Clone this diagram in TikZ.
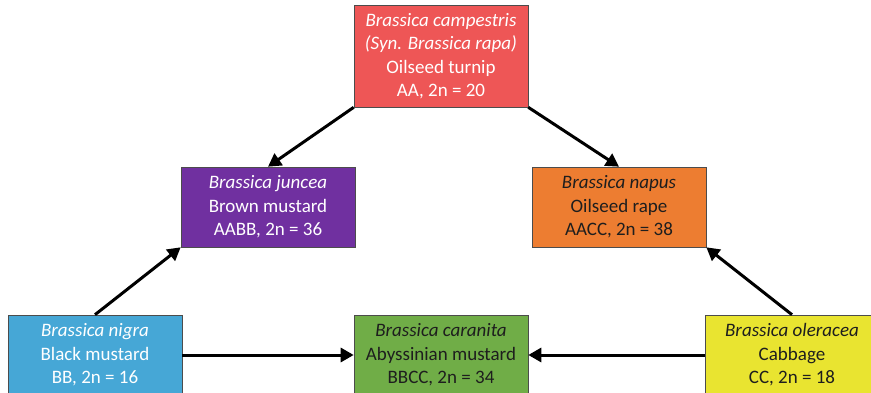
\documentclass[tikz,border=0pt]{standalone}
\usepackage{fontspec}
\setmainfont{Carlito}
\usetikzlibrary{arrows.meta}
\definecolor{turnipred}{RGB}{238,86,86}
\definecolor{junceapurple}{RGB}{112,48,160}
\definecolor{napusorange}{RGB}{237,125,49}
\definecolor{nigrablue}{RGB}{70,167,214}
\definecolor{caranitagreen}{RGB}{112,173,71}
\definecolor{oleraceayellow}{RGB}{233,228,48}
\definecolor{darktext}{RGB}{30,30,30}
\begin{document}
\begin{tikzpicture}[x=1pt,y=-1pt,
  box/.style={draw=gray!60!black, line width=0.6pt, minimum width=174pt,
    minimum height=80pt, align=center, inner sep=0pt,
    font=\fontsize{19}{23.5}\selectfont},
  lighttxt/.style={text=white},
  darktxt/.style={text=darktext},
  arr/.style={line width=3pt, draw=black,
    -{Triangle[length=13pt,width=14pt]}}]
\useasboundingbox (0,0) rectangle (871,393);
\clip (0,0) rectangle (871,393);

% species boxes
\node[box, lighttxt, fill=turnipred, minimum height=102pt] (rapa) at (441,56)
  {\textit{Brassica campestris}\\\textit{(Syn. Brassica rapa)}\\Oilseed turnip\\AA, 2n = 20};
\node[box, lighttxt, fill=junceapurple] (juncea) at (268,207)
  {\textit{Brassica juncea}\\Brown mustard\\AABB, 2n = 36};
\node[box, darktxt, fill=napusorange] (napus) at (619,207)
  {\textit{Brassica napus}\\Oilseed rape\\AACC, 2n = 38};
\node[box, lighttxt, fill=nigrablue] (nigra) at (95,355)
  {\textit{Brassica nigra}\\Black mustard\\BB, 2n = 16};
\node[box, darktxt, fill=caranitagreen] (caranita) at (441,355)
  {\textit{Brassica caranita}\\Abyssinian mustard\\BBCC, 2n = 34};
\node[box, darktxt, fill=oleraceayellow] (oleracea) at (792,355)
  {\textit{Brassica oleracea}\\Cabbage\\CC, 2n = 18};

% hybridisation arrows
\draw[arr] (rapa.south west) -- (juncea.north);
\draw[arr] (rapa.south east) -- (napus.north);
\draw[arr] (nigra.north) -- (juncea.south west);
\draw[arr] (oleracea.north) -- (napus.south east);
\draw[arr] (nigra.east) -- (caranita.west);
\draw[arr] (oleracea.west) -- (caranita.east);
\end{tikzpicture}
\end{document}
